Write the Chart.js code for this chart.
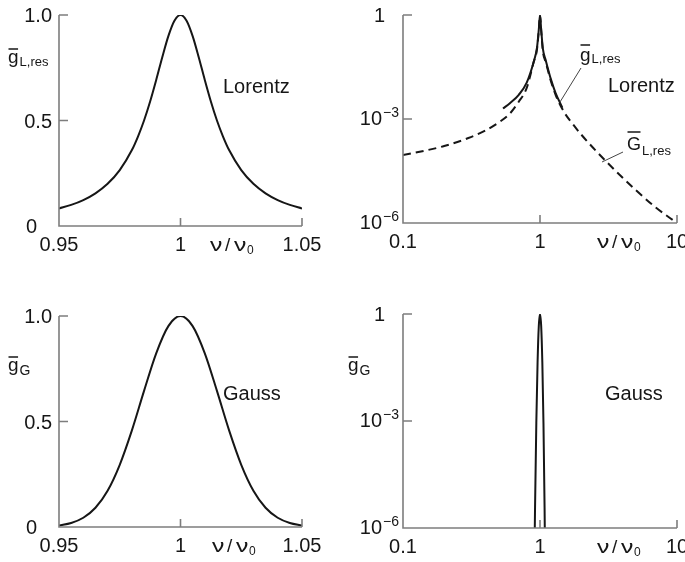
<!DOCTYPE html>
<html>
<head>
<meta charset="utf-8">
<script src="https://cdn.jsdelivr.net/npm/chart.js@4.4.0/dist/chart.umd.min.js"></script>
<style>
html,body{margin:0;padding:0;background:#fff;}
#wrap{position:relative;width:685px;height:562px;overflow:hidden;}
canvas{position:absolute;}
</style>
</head>
<body>
<div id="wrap">
<canvas id="c1" width="342" height="281" style="left:0;top:0"></canvas>
<canvas id="c2" width="343" height="281" style="left:342px;top:0"></canvas>
<canvas id="c3" width="342" height="281" style="left:0;top:281px"></canvas>
<canvas id="c4" width="343" height="281" style="left:342px;top:281px"></canvas>
</div>
<script>
// Lorentz line, linear axes
var lorNu = [0.95, 0.955, 0.96, 0.965, 0.97, 0.975, 0.98, 0.9825, 0.985, 0.9875, 0.99, 0.9925, 0.995, 0.9975, 1.0,
	1.0025, 1.005, 1.0075, 1.01, 1.0125, 1.015, 1.0175, 1.02, 1.025, 1.03, 1.035, 1.04, 1.045, 1.05];
var lorG = [0.083, 0.100, 0.123, 0.155, 0.200, 0.265, 0.36, 0.424, 0.5, 0.59, 0.692, 0.8, 0.9, 0.973, 1.0,
	0.973, 0.9, 0.8, 0.692, 0.59, 0.5, 0.424, 0.36, 0.265, 0.2, 0.155, 0.123, 0.1, 0.083];

// Gauss line, linear axes
var gauNu = [0.95, 0.955, 0.96, 0.965, 0.97, 0.975, 0.98, 0.985, 0.99, 0.995, 1.0,
	1.005, 1.01, 1.015, 1.02, 1.025, 1.03, 1.035, 1.04, 1.045, 1.05];
var gauG = [0.0076, 0.0192, 0.0439, 0.0914, 0.172, 0.295, 0.458, 0.645, 0.823, 0.952, 1.0,
	0.952, 0.823, 0.645, 0.458, 0.295, 0.172, 0.0914, 0.0439, 0.0192, 0.0076];

// G_L,res (dashed), log-log
var resNu = [0.1, 0.15, 0.2, 0.3, 0.4, 0.5, 0.6, 0.7, 0.8, 0.9, 0.95, 0.98, 1.0,
	1.02, 1.05, 1.1, 1.2, 1.3, 1.5, 1.7, 2, 3, 5, 7, 10];
var resG = [9.1e-5, 1.26e-4, 1.66e-4, 2.82e-4, 4.68e-4, 7.94e-4, 1.41e-3, 3.16e-3, 7.9e-3, 4.47e-2, 0.1, 0.363, 1,
	0.363, 0.089, 0.0447, 0.0126, 5.0e-3, 1.58e-3, 7.9e-4, 3.55e-4, 6.3e-5, 8.9e-6, 2.8e-6, 1e-6];

// g_L,res (solid), log-log
var solNu = [0.537, 0.6, 0.7, 0.8, 0.9, 0.95, 0.98, 1.0, 1.02, 1.05, 1.1, 1.2, 1.3, 1.455];
var solG = [2.0e-3, 2.82e-3, 5.0e-3, 1.12e-2, 4.47e-2, 0.112, 0.38, 1, 0.38, 0.105, 0.05, 0.0141, 5.6e-3, 2.14e-3];

// Gauss spike, log-log
var spkNu = [0.9, 0.92, 0.94, 0.96, 0.98, 1.0, 1.02, 1.04, 1.06, 1.08, 1.1];
var spkG = [3.4e-9, 3.7e-6, 8.8e-4, 0.0439, 0.458, 1, 0.458, 0.0439, 8.8e-4, 3.7e-6, 3.4e-9];

var linTicksX = [0.95, 1, 1.05];
var linTickLabelsX = ['0.95', '1', '1.05'];
var linTicksY = [0, 0.5, 1.0];
var linTickLabelsY = ['0', '0.5', '1.0'];
var logTicksX = [0.1, 1, 10];
var logTickLabelsX = ['0.1', '1', '10'];
var logTicksY = [1e-6, 1e-3, 1];
var logTickExpY = ['\u22126', '\u22123', ''];

var FONT = '"Liberation Sans", Arial, sans-serif';
var INK = '#161616';
var AXIS = '#7d7d7d';

var panelCfg = {
	c1: {log: false, sym: [{x: 8, y: 63, ch: 'g', size: 19, bar: 49, sub: 'L,res', subSize: 13, subDy: 3}],
		name: {t: 'Lorentz', x: 223, y: 93}, nu: {x: 210}},
	c2: {log: true, sym: [{x: 238, y: 61, ch: 'g', size: 19, bar: 45, sub: 'L,res', subSize: 13, subDy: 2},
			{x: 285, y: 150, ch: 'G', size: 18, bar: 132, sub: 'L,res', subSize: 13, subDy: 5}],
		leaders: [[239, 68, 218, 102], [281, 152, 260, 162]],
		name: {t: 'Lorentz', x: 266, y: 92}, nu: {x: 255}},
	c3: {log: false, sym: [{x: 8, y: 90, ch: 'g', size: 19, bar: 76, sub: 'G', subSize: 14, subDy: 4}],
		name: {t: 'Gauss', x: 223, y: 119}, nu: {x: 212}},
	c4: {log: true, sym: [{x: 6, y: 90, ch: 'g', size: 19, bar: 76, sub: 'G', subSize: 14, subDy: 4}],
		name: {t: 'Gauss', x: 263, y: 119}, nu: {x: 255}}
};

function pts(xs, ys) {
	var out = [];
	for (var i in xs) out.push({x: xs[i], y: ys[i]});
	return out;
}

// wide nu glyph, like the reference
function nu(ctx, x, y) {
	ctx.save();
	ctx.translate(x, y);
	ctx.scale(1.3, 1);
	ctx.fillText('\u03bd', 0, 0);
	ctx.restore();
}

var deco = {
	id: 'deco',
	afterDraw: function(chart) {
		var c = panelCfg[chart.canvas.id];
		var ctx = chart.ctx, a = chart.chartArea;
		var xs = chart.scales.x, ys = chart.scales.y;
		var tx = c.log ? logTicksX : linTicksX;
		var ty = c.log ? logTicksY : linTicksY;
		ctx.save();

		// axes + inward ticks
		ctx.strokeStyle = AXIS;
		ctx.lineWidth = 1.6;
		ctx.beginPath();
		ctx.moveTo(a.left, a.top);
		ctx.lineTo(a.left, a.bottom);
		ctx.lineTo(a.right, a.bottom);
		for (var i = 1; i < ty.length; i++) {
			var py = ys.getPixelForValue(ty[i]);
			ctx.moveTo(a.left, py);
			ctx.lineTo(a.left + 9, py);
		}
		for (var j = 1; j < tx.length; j++) {
			var px = xs.getPixelForValue(tx[j]);
			ctx.moveTo(px, a.bottom);
			ctx.lineTo(px, a.bottom - 8);
		}
		ctx.stroke();

		ctx.fillStyle = INK;
		ctx.textBaseline = 'alphabetic';
		ctx.font = '20px ' + FONT;

		// x tick labels
		ctx.textAlign = 'center';
		var xl = c.log ? logTickLabelsX : linTickLabelsX;
		for (var k = 0; k < tx.length; k++) {
			ctx.fillText(xl[k], xs.getPixelForValue(tx[k]), a.bottom + 25);
		}

		// y tick labels
		ctx.textAlign = 'left';
		for (var m = 0; m < ty.length; m++) {
			var yy = ys.getPixelForValue(ty[m]);
			ctx.font = '20px ' + FONT;
			if (!c.log) {
				var s = linTickLabelsY[m];
				var w = ctx.measureText(s).width;
				if (m === 0) ctx.fillText(s, a.left - 22 - w, a.bottom + 7);
				else ctx.fillText(s, a.left - 7 - w, yy + 7);
			} else if (logTickExpY[m] === '') {
				var w1 = ctx.measureText('1').width;
				ctx.fillText('1', a.left - 18 - w1, yy + 7);
			} else {
				var wb = ctx.measureText('10').width;
				ctx.font = '14px ' + FONT;
				var we = ctx.measureText(logTickExpY[m]).width;
				var x0 = a.left - 5 - wb - we;
				ctx.font = '20px ' + FONT;
				ctx.fillText('10', x0, yy + 6);
				ctx.font = '14px ' + FONT;
				ctx.fillText(logTickExpY[m], x0 + wb + 1, yy - 2);
			}
		}

		// nu / nu0 axis title
		var nb = a.bottom + 25;
		ctx.font = '19px ' + FONT;
		nu(ctx, c.nu.x, nb);
		ctx.fillText('/', c.nu.x + 15, nb);
		nu(ctx, c.nu.x + 24, nb);
		ctx.font = '12px ' + FONT;
		ctx.fillText('0', c.nu.x + 37, nb + 3);

		// curve name
		ctx.font = '20px ' + FONT;
		ctx.fillText(c.name.t, c.name.x, c.name.y);

		// symbols with overbar and subscript
		c.sym.forEach(function(s) {
			ctx.font = s.size + 'px ' + FONT;
			var w = ctx.measureText(s.ch).width;
			ctx.fillText(s.ch, s.x, s.y);
			ctx.strokeStyle = INK;
			ctx.lineWidth = 1.5;
			ctx.beginPath();
			ctx.moveTo(s.x + 0.5, s.bar);
			ctx.lineTo(s.x + w - 0.5, s.bar);
			ctx.stroke();
			ctx.font = s.subSize + 'px ' + FONT;
			ctx.fillText(s.sub, s.x + w + 1, s.y + s.subDy);
		});

		// leader lines
		if (c.leaders) {
			ctx.strokeStyle = '#444';
			ctx.lineWidth = 1;
			c.leaders.forEach(function(l) {
				ctx.beginPath();
				ctx.moveTo(l[0], l[1]);
				ctx.lineTo(l[2], l[3]);
				ctx.stroke();
			});
		}
		ctx.restore();
	}
};

function makeChart(id, datasets, log, pad) {
	var xScale = log ? {type: 'logarithmic', min: 0.1, max: 10, display: false}
		: {type: 'linear', min: 0.95, max: 1.05, display: false};
	var yScale = log ? {type: 'logarithmic', min: 1e-6, max: 1, display: false}
		: {type: 'linear', min: 0, max: 1, display: false};
	return new Chart(document.getElementById(id), {
		type: 'line',
		data: {datasets: datasets},
		options: {
			responsive: false,
			animation: false,
			devicePixelRatio: 1,
			layout: {padding: pad},
			scales: {x: xScale, y: yScale},
			plugins: {legend: {display: false}, tooltip: {enabled: false}},
			elements: {point: {radius: 0}}
		},
		plugins: [deco]
	});
}

function line(data, dash) {
	return {
		data: data,
		borderColor: INK,
		borderWidth: 2,
		borderDash: dash || [],
		fill: false,
		pointRadius: 0,
		cubicInterpolationMode: 'monotone'
	};
}

makeChart('c1', [line(pts(lorNu, lorG))], false, {left: 59, right: 40, top: 15, bottom: 55});
makeChart('c2', [line(pts(resNu, resG), [8, 5]), line(pts(solNu, solG))], true, {left: 61, right: 8, top: 15, bottom: 58});
makeChart('c3', [line(pts(gauNu, gauG))], false, {left: 59, right: 40, top: 35, bottom: 35});
makeChart('c4', [line(pts(spkNu, spkG))], true, {left: 61, right: 8, top: 33, bottom: 34});
</script>
</body>
</html>
